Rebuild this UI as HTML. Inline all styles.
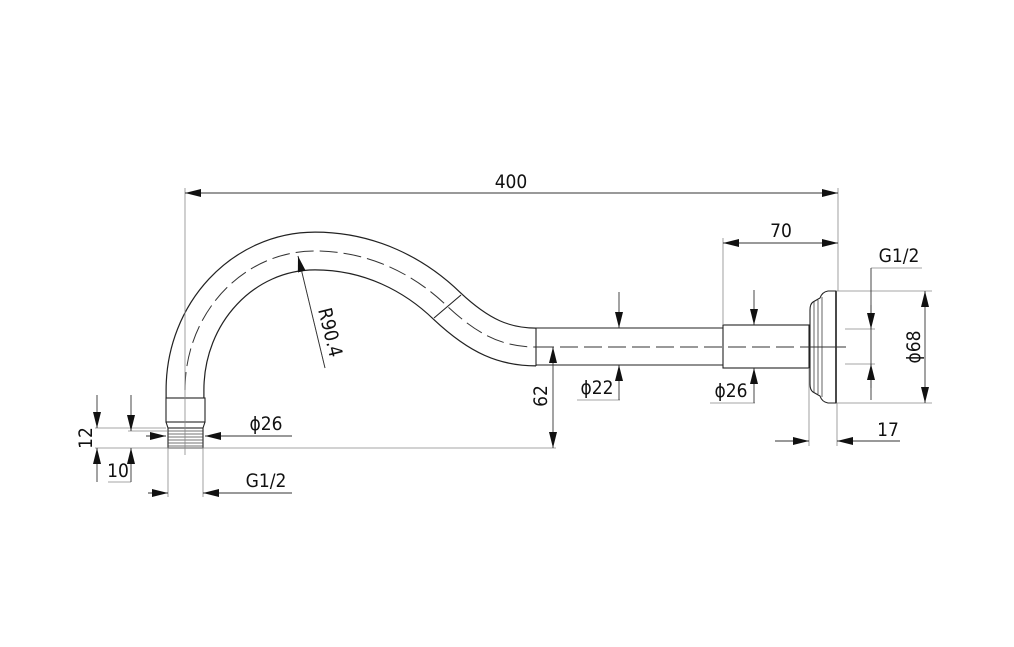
<!DOCTYPE html>
<html><head><meta charset="utf-8"><style>
html,body{margin:0;padding:0;background:#fff;}
svg{display:block}
text{font-family:"DejaVu Sans Condensed","Liberation Sans",sans-serif;font-size:19px;fill:#111;}
</style></head><body>
<svg width="1014" height="647" viewBox="0 0 1014 647" xmlns="http://www.w3.org/2000/svg">
<defs>
<marker id="a" viewBox="0 0 16 8" refX="16" refY="4" markerWidth="16" markerHeight="8" orient="auto-start-reverse" markerUnits="userSpaceOnUse"><path d="M0,0 L16,4 L0,8 z" fill="#111"/></marker>
</defs>
<!-- pipe body -->
<path d="M185,399 L185,390 C185,313 243,251 315,251 C370,251 415,275 447,306 C480,337 505,347 536,347" fill="none" stroke="#222" stroke-width="39"/>
<path d="M185,400 L185,390 C185,313 243,251 315,251 C370,251 415,275 447,306 C480,337 505,347 537,347" fill="none" stroke="#fff" stroke-width="36.6"/>
<path d="M185,390 C185,313 243,251 315,251 C370,251 415,275 447,306 C480,337 505,347 536,347" fill="none" stroke="#333" stroke-width="1" stroke-dasharray="18,6"/>
<line x1="434" y1="318" x2="461" y2="295" stroke="#222" stroke-width="1.1"/>
<line x1="536" y1="328" x2="536" y2="366" stroke="#222" stroke-width="1.1"/>
<!-- straight pipe -->
<g stroke="#222" stroke-width="1.1" fill="#fff">
<line x1="536" y1="328" x2="723" y2="328"/>
<line x1="536" y1="365" x2="723" y2="365"/>
<rect x="723" y="325" width="86" height="43"/>
<path d="M836,291 L828,291 Q822,292 820,298 L813,302 Q810,304 810,310 L810,384 Q810,390 813,392 L820,396 Q822,402 828,403 L836,403 Z"/>
<line x1="836" y1="291" x2="836" y2="403" stroke-width="1.6"/>
<line x1="814" y1="302" x2="814" y2="392" stroke-width="0.7"/>
<line x1="818" y1="300" x2="818" y2="394" stroke-width="0.7"/>
<line x1="822" y1="297" x2="822" y2="397" stroke-width="0.7"/>
<!-- left end collar -->
<rect x="166" y="398" width="39" height="24"/>
<path d="M166,422 L168,428 L203,428 L205,422" fill="none"/>
<rect x="168" y="428" width="35" height="20"/>
</g>
<line x1="810" y1="347" x2="846" y2="347" stroke="#333" stroke-width="1"/>
<g stroke="#444" stroke-width="0.8">
<line x1="168" y1="431" x2="203" y2="431"/><line x1="168" y1="434" x2="203" y2="434"/><line x1="168" y1="437" x2="203" y2="437"/><line x1="168" y1="440" x2="203" y2="440"/><line x1="168" y1="443" x2="203" y2="443"/><line x1="168" y1="446" x2="203" y2="446"/>
</g>
<line x1="536" y1="347" x2="810" y2="347" stroke="#333" stroke-width="1" stroke-dasharray="18,6"/>
<!-- dimension/extension lines -->
<g stroke="#888" stroke-width="0.8" fill="none">
<line x1="185" y1="188" x2="185" y2="455"/>
<line x1="838" y1="188" x2="838" y2="291"/>
<line x1="723" y1="238" x2="723" y2="325"/>
<line x1="95" y1="428" x2="166" y2="428"/>
<line x1="128" y1="431" x2="168" y2="431"/>
<line x1="95" y1="448" x2="556" y2="448"/>
<line x1="168" y1="448" x2="168" y2="497"/>
<line x1="203" y1="448" x2="203" y2="497"/>
<line x1="837" y1="291" x2="932" y2="291"/>
<line x1="837" y1="403" x2="932" y2="403"/>
<line x1="845" y1="329" x2="875" y2="329"/>
<line x1="845" y1="364" x2="875" y2="364"/>
<line x1="871" y1="268" x2="922" y2="268"/>
<line x1="809" y1="368" x2="809" y2="446"/>
<line x1="837" y1="403" x2="837" y2="446"/>
<line x1="577" y1="400" x2="620" y2="400"/>
<line x1="710" y1="403" x2="755" y2="403"/>
<line x1="108" y1="482" x2="131" y2="482"/>
<line x1="298" y1="256" x2="325" y2="368"/>
</g>
<g stroke="#333" stroke-width="0.9" fill="none">
<line x1="185" y1="193" x2="838" y2="193" marker-start="url(#a)" marker-end="url(#a)"/>
<line x1="723" y1="243" x2="838" y2="243" marker-start="url(#a)" marker-end="url(#a)"/>
<line x1="925" y1="291" x2="925" y2="403" marker-start="url(#a)" marker-end="url(#a)"/>
<line x1="553" y1="347" x2="553" y2="448" marker-start="url(#a)" marker-end="url(#a)"/>
<line x1="871" y1="268" x2="871" y2="400"/>
<line x1="871" y1="305" x2="871" y2="329" marker-end="url(#a)"/>
<line x1="871" y1="388" x2="871" y2="364" marker-end="url(#a)"/>
<line x1="619" y1="292" x2="619" y2="328" marker-end="url(#a)"/>
<line x1="619" y1="400" x2="619" y2="365" marker-end="url(#a)"/>
<line x1="754" y1="290" x2="754" y2="325" marker-end="url(#a)"/>
<line x1="754" y1="403" x2="754" y2="368" marker-end="url(#a)"/>
<line x1="775" y1="441" x2="809" y2="441" marker-end="url(#a)"/>
<line x1="900" y1="441" x2="837" y2="441" marker-end="url(#a)"/>
<line x1="146" y1="436" x2="166" y2="436" marker-end="url(#a)"/>
<line x1="292" y1="436" x2="205" y2="436" marker-end="url(#a)"/>
<line x1="148" y1="493" x2="168" y2="493" marker-end="url(#a)"/>
<line x1="292" y1="493" x2="203" y2="493" marker-end="url(#a)"/>
<line x1="97" y1="395" x2="97" y2="428" marker-end="url(#a)"/>
<line x1="97" y1="482" x2="97" y2="448" marker-end="url(#a)"/>
<line x1="131" y1="395" x2="131" y2="431" marker-end="url(#a)"/>
<line x1="131" y1="482" x2="131" y2="448" marker-end="url(#a)"/>
<line x1="325" y1="368" x2="298" y2="256" marker-end="url(#a)"/>
</g>
<!-- labels -->
<text x="511" y="188" text-anchor="middle">400</text>
<text x="781" y="237" text-anchor="middle">70</text>
<text x="899" y="262" text-anchor="middle">G1/2</text>
<text x="888" y="436" text-anchor="middle">17</text>
<text x="597" y="394" text-anchor="middle">ϕ22</text>
<text x="731" y="397" text-anchor="middle">ϕ26</text>
<text x="266" y="430" text-anchor="middle">ϕ26</text>
<text x="266" y="487" text-anchor="middle">G1/2</text>
<text x="118" y="477" text-anchor="middle">10</text>
<text transform="translate(92,438) rotate(-90)" text-anchor="middle">12</text>
<text transform="translate(547,396) rotate(-90)" text-anchor="middle">62</text>
<text transform="translate(920,347) rotate(-90)" text-anchor="middle">ϕ68</text>
<text transform="translate(324,334) rotate(76)" text-anchor="middle">R90.4</text>
</svg>
</body></html>
